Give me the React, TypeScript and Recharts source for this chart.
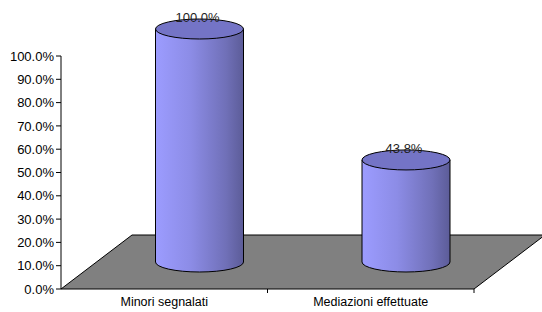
import React from "react";
import { BarChart, Bar, XAxis, YAxis, ReferenceArea, LabelList } from "recharts";

const categories = ["Minori segnalati", "Mediazioni effettuate"];
const shares = [1.0, 0.438];
const yTicks = [0, 0.1, 0.2, 0.3, 0.4, 0.5, 0.6, 0.7, 0.8, 0.9, 1.0];

const data = categories.map((name, i) => ({ name, value: shares[i] }));

// fake 3d depth: floor goes back by (DX, DY), cylinders stand half way in
const DX = 71;
const DY = -54;
const RY = 10;

const pct = (v: number) => (v * 100).toFixed(1) + "%";

function Floor(props: any) {
    const { x, y, width, height } = props;
    const b = y + height;
    const pts = [
        [x, b],
        [x + width, b],
        [x + width + DX, b + DY],
        [x + DX, b + DY],
    ].map(p => p.join(",")).join(" ");
    return (
        <g>
            <polygon points={pts} fill="#808080" stroke="#000" strokeWidth={1} />
            {categories.map((c, i) => {
                const tx = x + (width * (i + 1)) / categories.length;
                return <line key={c} x1={tx} y1={b} x2={tx} y2={b + 4} stroke="#000" />;
            })}
        </g>
    );
}

function Cylinder(props: any) {
    const { x, y, width, height } = props;
    const cx = x + width / 2 + DX / 2;
    const rx = width / 2;
    const top = y + DY / 2;
    const bottom = y + height + DY / 2;
    const left = cx - rx;
    const right = cx + rx;
    const side = `M${left},${top} L${left},${bottom} A${rx},${RY} 0 0 0 ${right},${bottom} L${right},${top} Z`;
    return (
        <g>
            <path d={side} fill="url(#cylSide)" stroke="#000" strokeWidth={1} />
            <ellipse cx={cx} cy={top} rx={rx} ry={RY} fill="#7474c6" stroke="#000" strokeWidth={1} />
        </g>
    );
}

function TopLabel(props: any) {
    const { x, y, width, value } = props;
    return (
        <text
            x={x + width / 2 + DX / 2 - 2}
            y={y + DY / 2 - 7}
            textAnchor="middle"
            fontSize={13}
            fontFamily="'Liberation Sans', Arial, sans-serif"
            fill="#222"
        >
            {pct(value)}
        </text>
    );
}

export default function App() {
    return (
        <div style={{ position: "absolute", left: 0, top: 0, width: 542, height: 312, background: "#fff" }}>
            <BarChart
                width={542}
                height={312}
                data={data}
                margin={{ top: 56, right: 68, bottom: 0, left: 0 }}
                barCategoryGap="28%"
            >
                <defs>
                    <linearGradient id="cylSide" x1="0" y1="0" x2="1" y2="0">
                        <stop offset="0%" stopColor="#9c9cff" />
                        <stop offset="40%" stopColor="#8c8ce6" />
                        <stop offset="80%" stopColor="#7070b8" />
                        <stop offset="100%" stopColor="#5c5c98" />
                    </linearGradient>
                </defs>
                <ReferenceArea
                    x1={categories[0]}
                    x2={categories[categories.length - 1]}
                    y1={0}
                    y2={1}
                    shape={<Floor />}
                />
                <XAxis
                    dataKey="name"
                    height={23}
                    axisLine={false}
                    tickLine={false}
                    interval={0}
                    tick={{ fill: "#000", fontSize: 12.5, fontFamily: "'Liberation Sans', Arial, sans-serif" }}
                />
                <YAxis
                    width={61}
                    domain={[0, 1]}
                    ticks={yTicks}
                    tickFormatter={pct}
                    axisLine={{ stroke: "#000" }}
                    tickLine={{ stroke: "#000" }}
                    tickSize={5}
                    tick={{ fill: "#000", fontSize: 13, fontFamily: "'Liberation Sans', Arial, sans-serif" }}
                />
                <Bar dataKey="value" barSize={88} shape={<Cylinder />} isAnimationActive={false}>
                    <LabelList dataKey="value" content={<TopLabel />} />
                </Bar>
            </BarChart>
        </div>
    );
}
